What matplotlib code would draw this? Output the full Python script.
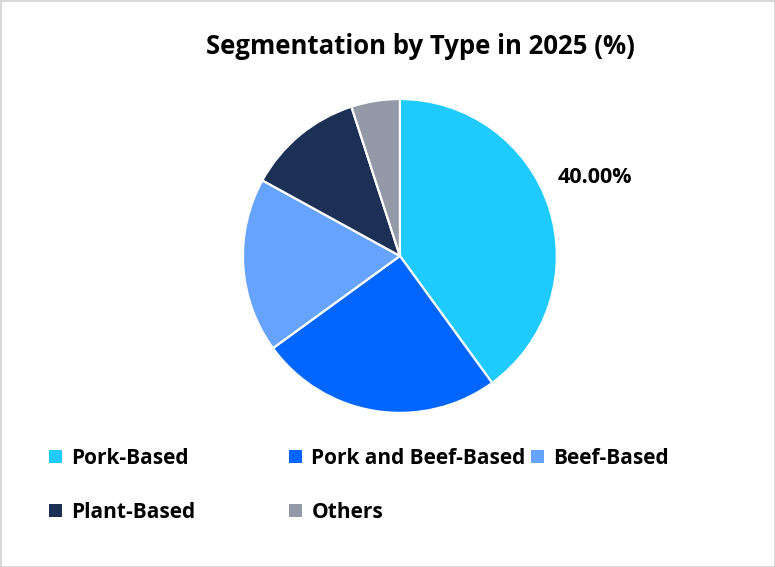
import numpy as np
import matplotlib.pyplot as plt

# segment shares in 2025 (%)
segments = ['Pork-Based', 'Pork and Beef-Based', 'Beef-Based', 'Plant-Based', 'Others']
shares = [40, 25, 18, 12, 5]
colors = ['#1FCAFF', '#0066FF', '#66A3FF', '#1C2F55', '#9399A7']

plt.rcParams['font.family'] = ['Open Sans', 'DejaVu Sans']

fig = plt.figure(figsize=(7.75, 5.67), dpi=100)
fig.patch.set_edgecolor('#D9D9D9')
fig.patch.set_linewidth(2)

ax = fig.add_axes([0.3135, 0.2716, 0.405, 0.554])
wedges, _ = ax.pie(shares, colors=colors, startangle=90, counterclock=False,
                   wedgeprops=dict(edgecolor='white', linewidth=1.6))
ax.set_xlim(-1, 1)
ax.set_ylim(-1, 1)
ax.set_aspect('equal')

# label only the largest slice
w = wedges[0]
mid = np.deg2rad((w.theta1 + w.theta2) / 2 + 4)
ax.text(1.34 * np.cos(mid), 1.34 * np.sin(mid), f'{shares[0]:.2f}%',
        ha='center', va='center', fontsize=15.5, fontweight='bold')

fig.text(0.542, 0.918, 'Segmentation by Type in 2025 (%)', ha='center', va='center',
         fontsize=18.5, fontweight='bold')

# legend laid out in three fixed-width columns
col_x = [49 / 775, 289 / 775, 531 / 775]
for c in range(3):
    idx = [i for i in range(len(segments)) if i % 3 == c]
    leg = fig.legend([wedges[i] for i in idx], [segments[i] for i in idx],
                     loc='upper left', bbox_to_anchor=(col_x[c], 0.2105),
                     frameon=False, fontsize=15, handlelength=0.62, handleheight=0.62,
                     handletextpad=0.45, labelspacing=1.6, borderaxespad=0, borderpad=0)
    for t in leg.get_texts():
        t.set_fontweight('bold')
    for h in leg.legend_handles:
        h.set_edgecolor('none')

fig.savefig('out.png', dpi=100)
